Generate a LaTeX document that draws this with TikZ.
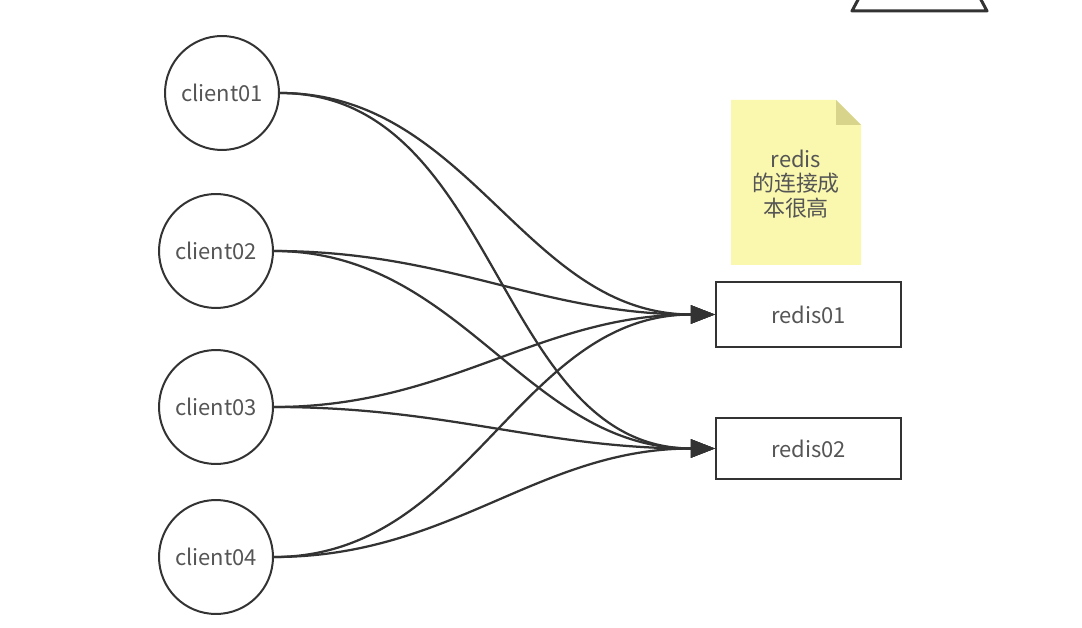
\documentclass[tikz,border=0pt]{standalone}
\usepackage{fontspec}
\setmainfont{Noto Sans CJK SC}
\usetikzlibrary{arrows.meta}

\definecolor{inkgray}{HTML}{333333}
\definecolor{textgray}{HTML}{555555}
\definecolor{noteyellow}{HTML}{FAF8AE}
\definecolor{notefold}{HTML}{D8D48C}

\tikzset{
  client/.style={circle, draw=inkgray, line width=0.04cm, minimum size=2.28cm,
                 inner sep=0pt, text=textgray, font=\fontsize{12.5}{15}\selectfont},
  server/.style={rectangle, draw=inkgray, line width=0.045cm, minimum width=3.7cm,
                 inner sep=0pt, text=textgray, font=\fontsize{12.5}{15}\selectfont},
  conn/.style={draw=inkgray, line width=0.045cm,
               -{Triangle[length=0.48cm, width=0.36cm]}},
}

\begin{document}
\begin{tikzpicture}[x=0.02cm, y=-0.02cm]
    \useasboundingbox (0, 0) rectangle (1082, 628);
    \clip (0, 0) rectangle (1082, 628);

    % partly visible shape at the top
    \draw[inkgray, line width=0.06cm, line join=round] (860, -4) -- (852, 11) -- (987, 11) -- (979, -4);

    % note
    \fill[noteyellow] (731, 100) -- (836, 100) -- (861, 125) -- (861, 265) -- (731, 265) -- cycle;
    \fill[notefold] (836, 100) -- (861, 125) -- (836, 125) -- cycle;
    \node[align=center, text=textgray, font=\fontsize{12.5}{14}\selectfont] (note) at (796, 184)
      {redis\\的连接成\\本很高};

    \node[client] (c1) at (222, 93)  {client01};
    \node[client] (c2) at (216, 251) {client02};
    \node[client] (c3) at (216, 407) {client03};
    \node[client] (c4) at (216, 557) {client04};

    \node[server, minimum height=1.3cm]  (r1) at (808.5, 314.5) {redis01};
    \node[server, minimum height=1.22cm] (r2) at (808.5, 448.5) {redis02};

    \foreach \c in {c1, c2, c3, c4} {
      \foreach \r in {r1, r2} {
        \path[conn] (\c.east) to[out=0, in=180] (\r.west);
      }
    }
\end{tikzpicture}
\end{document}
